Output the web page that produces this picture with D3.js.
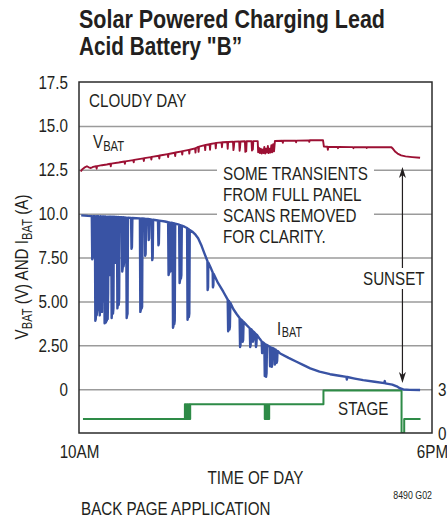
<!DOCTYPE html>
<html><head><meta charset="utf-8">
<script src="https://cdn.jsdelivr.net/npm/d3@7"></script>
<style>
html,body{margin:0;padding:0;background:#fff;}
svg{display:block;font-family:"Liberation Sans",Arial,Helvetica,sans-serif;}
</style></head><body>
<svg id="c" width="447" height="523"></svg>
<script>
// ---------- DATA ----------
const timeDomain = [10, 18];
const xTickValues = [10, 18];
const xTickLabels = ["10AM", "6PM"];
const yDomain = [-2.5, 17.5];
const yTickValues = [0, 2.5, 5, 7.5, 10, 12.5, 15, 17.5];
const yTickLabels = ["0", "2.50", "5.00", "7.50", "10.0", "12.5", "15.0", "17.5"];
const gridValues = [0, 2.5, 5, 7.5, 10, 12.5, 15];
const stageDomain = [0, 3];
const stageTickValues = [0, 3];
const stageTickLabels = ["0", "3"];

// [time of day in hours, volts]
const vbat = [
[10.04,12.40],[10.07,12.52],[10.12,12.62],[10.18,12.70],[10.22,12.64],[10.27,12.60],[10.32,12.66],[10.39,12.70],[10.40,12.56],[10.41,12.71],
[10.52,12.76],[10.63,12.80],[10.71,12.84],[10.72,12.70],[10.73,12.85],[10.90,12.91],[11.03,12.97],[11.04,12.84],[11.05,12.98],[11.23,13.05],
[11.24,12.92],[11.25,13.06],[11.46,13.15],[11.47,13.00],[11.48,13.16],[11.63,13.22],[11.64,13.08],[11.65,13.23],[11.81,13.30],[11.82,13.14],
[11.83,13.31],[11.90,13.34],[12.01,13.39],[12.02,13.22],[12.03,13.40],[12.17,13.47],[12.18,13.28],[12.19,13.48],[12.33,13.55],[12.34,13.36],
[12.35,13.56],[12.49,13.63],[12.50,13.42],[12.51,13.64],[12.63,13.72],[12.64,13.48],[12.65,13.74],[12.70,13.80],[12.71,13.52],[12.72,13.82],
[12.85,13.90],[12.86,13.62],[12.87,13.91],[12.96,13.96],[12.97,13.64],[12.98,13.97],[13.09,14.02],[13.10,13.72],[13.11,14.03],[13.23,14.06],
[13.24,13.78],[13.25,14.07],[13.36,14.08],[13.37,13.70],[13.38,14.08],[13.49,14.10],[13.50,13.62],[13.51,13.80],[13.52,14.10],[13.63,14.11],
[13.64,13.58],[13.65,13.78],[13.66,14.11],[13.76,14.12],[13.77,13.52],[13.78,13.75],[13.79,13.55],[13.80,14.12],[13.91,14.13],[13.92,13.60],
[13.93,13.90],[13.94,13.65],[13.95,14.13],[14.05,14.13],[14.06,13.50],[14.08,13.75],[14.10,13.45],[14.12,13.70],[14.14,13.42],[14.16,13.65],
[14.18,13.45],[14.20,13.80],[14.22,13.42],[14.24,13.70],[14.26,13.48],[14.28,13.85],[14.30,13.45],[14.32,13.70],[14.34,13.48],[14.36,13.90],
[14.38,13.50],[14.40,13.95],[14.42,13.55],[14.44,14.14],[14.61,14.15],[14.62,14.04],[14.63,14.15],[14.91,14.16],[14.92,14.06],[14.93,14.16],
[15.21,14.17],[15.22,14.09],[15.23,14.18],[15.53,14.19],[15.55,13.82],[15.63,13.81],[15.64,13.64],[15.65,13.80],[15.86,13.80],[15.87,13.73],
[15.88,13.80],[16.21,13.79],[16.22,13.73],[16.23,13.79],[16.51,13.78],[16.52,13.74],[16.53,13.78],[17.08,13.78],[17.12,13.68],[17.17,13.52],
[17.22,13.42],[17.30,13.32],[17.40,13.26],[17.55,13.22],[17.73,13.18]
];

// [time of day in hours, amps]
const ibat = [
[10.05,9.90],[10.20,9.87],[10.29,9.86],[10.30,7.40],[10.31,7.50],[10.32,9.86],
[10.36,9.86],[10.37,3.90],[10.38,4.00],[10.39,9.85],[10.40,4.20],[10.41,4.40],[10.42,9.85],
[10.44,9.85],[10.45,4.50],[10.46,9.00],[10.47,4.20],[10.48,4.60],[10.49,9.85],[10.50,4.60],[10.51,6.00],[10.52,4.40],[10.53,9.84],[10.54,5.00],[10.55,9.84],
[10.57,9.84],[10.58,3.75],[10.59,4.20],[10.60,9.84],[10.61,3.80],[10.62,4.50],[10.63,3.90],[10.64,9.83],[10.65,4.00],[10.66,5.50],[10.67,9.83],
[10.69,9.83],[10.70,6.50],[10.71,9.82],
[10.73,9.82],[10.74,4.05],[10.75,4.40],[10.76,9.82],[10.77,4.30],[10.78,4.60],[10.79,9.82],
[10.82,9.81],[10.83,7.20],[10.84,9.81],
[10.86,9.81],[10.87,4.60],[10.88,4.80],[10.89,9.81],[10.90,4.80],[10.91,5.20],[10.92,9.80],
[10.97,9.79],[10.98,6.70],[10.99,6.90],[11.00,9.79],[11.01,7.00],[11.02,7.20],[11.03,9.78],
[11.07,9.77],[11.08,4.05],[11.09,4.20],[11.10,4.30],[11.11,9.77],
[11.18,9.76],[11.19,8.00],[11.20,8.10],[11.21,9.75],
[11.38,9.73],[11.39,4.40],[11.40,4.50],[11.41,9.72],[11.42,4.60],[11.43,4.70],[11.44,9.72],
[11.49,9.71],[11.50,7.60],[11.51,7.70],[11.52,9.70],
[11.57,9.69],[11.58,8.50],[11.59,8.60],[11.60,9.68],
[11.65,9.66],[11.66,7.35],[11.67,7.50],[11.68,9.65],
[11.79,9.61],[11.80,8.20],[11.81,8.30],[11.82,9.60],
[11.95,9.55],
[12.02,9.51],[12.03,6.50],[12.04,6.60],[12.05,9.50],[12.06,7.50],[12.07,6.70],[12.08,6.90],[12.09,9.48],
[12.12,9.47],[12.13,3.50],[12.14,3.60],[12.15,9.45],[12.16,3.70],[12.17,3.90],[12.18,9.43],
[12.27,9.37],[12.28,6.05],[12.29,6.20],[12.30,9.34],[12.31,6.30],[12.32,6.50],[12.33,9.31],
[12.40,9.24],[12.45,9.18],[12.46,3.95],[12.47,4.10],[12.48,9.12],[12.49,4.10],[12.50,4.30],[12.51,9.07],
[12.58,8.95],[12.64,8.80],[12.70,8.60],[12.78,8.15],[12.84,7.75],[12.91,7.30],[12.915,5.65],[12.925,5.80],[12.93,7.22],
[12.98,6.95],[13.03,6.65],[13.035,5.80],[13.045,5.90],[13.05,6.58],
[13.15,6.05],[13.27,5.55],[13.37,5.10],[13.38,3.30],[13.39,3.40],[13.40,5.02],[13.41,3.40],[13.42,3.55],[13.43,4.92],
[13.50,4.55],[13.58,4.25],[13.64,4.05],[13.65,2.40],[13.66,2.50],[13.67,3.98],[13.70,3.90],[13.71,2.70],[13.72,2.80],[13.73,3.84],
[13.80,3.65],[13.87,3.47],[13.88,2.40],[13.89,2.50],[13.90,3.42],[13.93,3.33],[13.94,2.70],[13.95,2.80],[13.96,3.27],[14.00,3.15],[14.01,2.40],[14.02,2.50],[14.03,3.10],
[14.10,2.85],[14.14,2.72],[14.15,2.05],[14.16,2.15],[14.17,2.67],[14.20,2.60],[14.21,0.75],[14.22,0.85],[14.23,2.55],[14.24,0.70],[14.25,0.90],[14.26,2.52],
[14.32,2.42],[14.33,1.30],[14.34,1.40],[14.35,2.38],[14.37,1.27],[14.38,1.40],[14.39,2.34],[14.43,2.28],[14.44,1.40],[14.45,1.50],[14.46,2.24],[14.48,1.50],[14.49,1.60],[14.50,2.18],
[14.56,2.03],[14.75,1.78],[14.93,1.56],[15.10,1.35],[15.24,1.18],[15.45,1.00],[15.69,0.85],[15.90,0.76],[16.06,0.70],[16.07,0.55],
[16.08,0.69],[16.25,0.60],[16.44,0.51],[16.70,0.42],[16.92,0.34],[16.93,0.46],[16.94,0.33],[17.10,0.26],[17.20,0.16],[17.27,0.05],
[17.35,-0.02],[17.50,-0.04],[17.73,-0.05]
];

// [time of day in hours, charger stage]
const stage = [
[10.09,0.95],[12.40,1.97],[12.43,0.95],[12.45,1.97],[12.47,0.95],[12.49,1.97],[12.51,0.95],[12.52,1.97],
[14.21,0.95],[14.23,1.97],[14.25,0.95],[14.27,1.97],[14.29,0.95],[14.31,1.97],
[15.54,2.90],[17.31,0],[17.37,0.95],[17.74,0.95]
];

const sunsetTime = 17.33;
const sunsetArrowTop = 12.65;
const sunsetArrowBottom = 0.35;

// ---------- CHART ----------
const svg = d3.select("#c");
const L = 79, R = 432, T = 82, B = 433;
const FONT = 19;
const NARROW = 0.8;
const ink = "#231f20";

// squeeze Arial-metric text into a condensed look
function narrow(sel, k = NARROW) {
  sel.each(function () {
    const len = this.getComputedTextLength();
    d3.select(this).attr("textLength", len * k).attr("lengthAdjust", "spacingAndGlyphs");
  });
  return sel;
}

const x = d3.scaleLinear().domain(timeDomain).range([L, R]);
const y = d3.scaleLinear().domain(yDomain).range([B, T]);
const ys = d3.scaleLinear().domain(stageDomain).range([B, y(0)]);

// title
const title = svg.append("g").attr("font-weight", "bold").attr("font-size", 25).attr("fill", ink);
title.append("text").attr("x", 79).attr("y", 28).attr("textLength", 306).attr("lengthAdjust", "spacingAndGlyphs").text("Solar Powered Charging Lead");
title.append("text").attr("x", 79).attr("y", 55).attr("textLength", 163).attr("lengthAdjust", "spacingAndGlyphs").text("Acid Battery \"B\u201D");

// grid
const grid = svg.append("g").attr("transform", `translate(${L},0)`)
  .call(d3.axisLeft(y).tickValues(gridValues).tickSize(-(R - L)).tickFormat(""));
grid.select(".domain").remove();
grid.selectAll("line").attr("stroke", "#9b9b9b").attr("stroke-width", 1.5);

// left axis labels
const ly = svg.append("g").attr("transform", `translate(${L},0)`)
  .call(d3.axisLeft(y).tickValues(yTickValues).tickSize(0).tickPadding(11)
    .tickFormat((d, i) => yTickLabels[i]));
ly.select(".domain").remove();
narrow(ly.selectAll("text").attr("font-size", FONT).attr("font-family", null).attr("fill", ink));

// right axis labels
const ry = svg.append("g").attr("transform", `translate(${R},0)`)
  .call(d3.axisRight(ys).tickValues(stageTickValues).tickSize(0).tickPadding(6)
    .tickFormat((d, i) => stageTickLabels[i]));
ry.select(".domain").remove();
narrow(ry.selectAll("text").attr("font-size", FONT).attr("font-family", null).attr("fill", ink));

// bottom axis labels
const bx = svg.append("g").attr("transform", `translate(0,${B})`)
  .call(d3.axisBottom(x).tickValues(xTickValues).tickSize(0).tickPadding(11.5)
    .tickFormat((d, i) => xTickLabels[i]));
bx.select(".domain").remove();
narrow(bx.selectAll("text").attr("font-size", FONT).attr("font-family", null).attr("fill", ink));

// axis titles
narrow(svg.append("text").attr("x", (L + R) / 2).attr("y", 484).attr("text-anchor", "middle")
  .attr("font-size", FONT).attr("fill", ink).text("TIME OF DAY"));

const yt = svg.append("text").attr("transform", "translate(28,267) rotate(-90)")
  .attr("text-anchor", "middle").attr("font-size", FONT).attr("fill", ink);
yt.append("tspan").text("V");
yt.append("tspan").attr("font-size", 14).attr("dy", 4).text("BAT");
yt.append("tspan").attr("dy", -4).text(" (V) AND I");
yt.append("tspan").attr("font-size", 14).attr("dy", 4).text("BAT");
yt.append("tspan").attr("dy", -4).text(" (A)");
narrow(yt);

narrow(svg.append("text").attr("x", 432).attr("y", 499).attr("text-anchor", "end")
  .attr("font-size", 11).attr("fill", ink).text("8490 G02"));
narrow(svg.append("text").attr("x", 81).attr("y", 515)
  .attr("font-size", FONT).attr("fill", ink).text("BACK PAGE APPLICATION"));

// sunset arrow
const ax = x(sunsetTime), ay1 = y(sunsetArrowTop), ay2 = y(sunsetArrowBottom);
const arrow = svg.append("g").attr("fill", ink).attr("stroke", "none");
arrow.append("line").attr("x1", ax).attr("x2", ax).attr("y1", ay1 + 6).attr("y2", ay2 - 6)
  .attr("stroke", ink).attr("stroke-width", 1.2);
arrow.append("path").attr("d", `M${ax},${ay1}L${ax - 3.5},${ay1 + 11}L${ax},${ay1 + 8}L${ax + 3.5},${ay1 + 11}Z`);
arrow.append("path").attr("d", `M${ax},${ay2}L${ax - 3.5},${ay2 - 11}L${ax},${ay2 - 8}L${ax + 3.5},${ay2 - 11}Z`);

// annotation text with white knockouts
function boxedText(lines, x0, y0, lh, padX, padY) {
  const g = svg.append("g");
  const bg = g.append("rect").attr("fill", "#fff");
  const t = g.append("text").attr("font-size", FONT).attr("fill", ink);
  lines.forEach((s, i) => t.append("tspan").attr("x", x0).attr("y", y0 + i * lh).text(s));
  narrow(t.selectAll("tspan"));
  const bb = t.node().getBBox();
  bg.attr("x", bb.x - padX).attr("y", bb.y - padY).attr("width", bb.width + 2 * padX).attr("height", bb.height + 2 * padY);
  return g;
}
boxedText(["SOME TRANSIENTS", "FROM FULL PANEL", "SCANS REMOVED", "FOR CLARITY."], 223, 180, 21, 6, 1);
boxedText(["SUNSET"], 363, 285, 21, 2, 0);

narrow(svg.append("text").attr("x", 89).attr("y", 107).attr("font-size", FONT).attr("fill", ink).text("CLOUDY DAY"));
narrow(svg.append("text").attr("x", 338).attr("y", 415).attr("font-size", FONT).attr("fill", ink).text("STAGE"));

const vl = svg.append("text").attr("x", 93).attr("y", 148).attr("font-size", FONT).attr("fill", ink);
vl.append("tspan").text("V");
vl.append("tspan").attr("font-size", 14).attr("dy", 3).text("BAT");
narrow(vl);
const il = svg.append("text").attr("x", 277).attr("y", 335).attr("font-size", FONT).attr("fill", ink);
il.append("tspan").text("I");
il.append("tspan").attr("font-size", 14).attr("dy", 2).attr("dx", 1).text("BAT");
narrow(il);

// data
svg.append("clipPath").attr("id", "plot").append("rect")
  .attr("x", L).attr("y", T).attr("width", R - L).attr("height", B - T);
const plot = svg.append("g").attr("clip-path", "url(#plot)").attr("fill", "none")
  .attr("stroke-linejoin", "round");

const line = d3.line().x(d => x(d[0])).y(d => y(d[1]));
const stepLine = d3.line().x(d => x(d[0])).y(d => ys(d[1])).curve(d3.curveStepAfter);

plot.append("path").datum(stage).attr("d", stepLine).attr("stroke", "#2e8b47").attr("stroke-width", 2);
plot.append("path").datum(ibat).attr("d", line).attr("stroke", "#3953a4").attr("stroke-width", 2.4);
plot.append("path").datum(vbat).attr("d", line).attr("stroke", "#9c1033").attr("stroke-width", 1.9);

// frame
svg.append("rect").attr("x", L).attr("y", T).attr("width", R - L).attr("height", B - T)
  .attr("fill", "none").attr("stroke", "#2b2b2b").attr("stroke-width", 1.5);
</script>
</body></html>
